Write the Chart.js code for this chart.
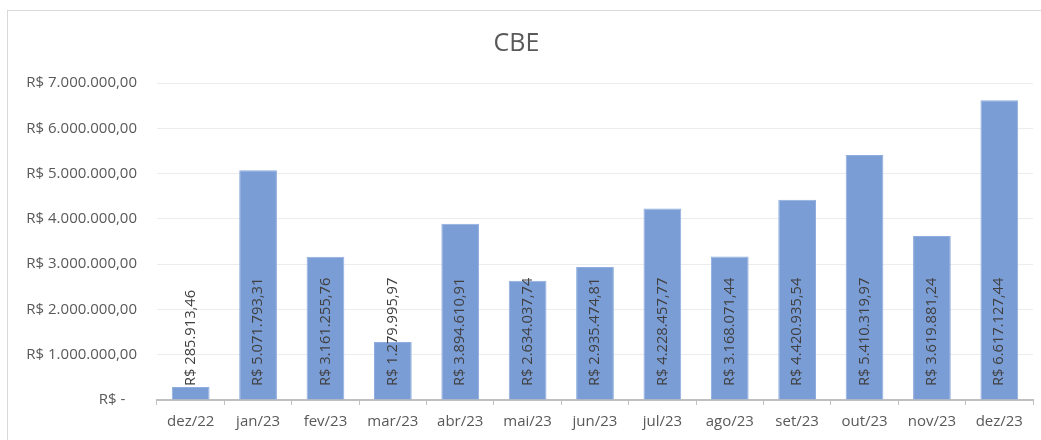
<!DOCTYPE html>
<html>
<head>
<meta charset="utf-8">
<script src="https://cdn.jsdelivr.net/npm/chart.js@4"></script>
<style>
  body { margin: 0; background: #fff; }
  #wrap { position: relative; width: 1041px; height: 440px; }
</style>
</head>
<body>
<div id="wrap"><canvas id="cbeChart" width="1041" height="440"></canvas></div>
<script>
// categories and values
const months = ['dez/22', 'jan/23', 'fev/23', 'mar/23', 'abr/23', 'mai/23', 'jun/23',
                'jul/23', 'ago/23', 'set/23', 'out/23', 'nov/23', 'dez/23'];
const cbeValues = [285913.46, 5071793.31, 3161255.76, 1279995.97, 3894610.91, 2634037.74, 2935474.81,
                   4228457.77, 3168071.44, 4420935.54, 5410319.97, 3619881.24, 6617127.44];
const yTicks = [0, 1000000, 2000000, 3000000, 4000000, 5000000, 6000000, 7000000];

const fontFamily = '"Open Sans", sans-serif';

// brazilian currency, like excel's accounting format
function brl(v) {
    if (v === 0) return 'R$ -   ';
    return 'R$ ' + v.toLocaleString('pt-BR', { minimumFractionDigits: 2, maximumFractionDigits: 2 });
}

// outer chart frame
const framePlugin = {
    id: 'frame',
    beforeDraw(chart) {
        const ctx = chart.ctx;
        ctx.save();
        ctx.fillStyle = '#fff';
        ctx.fillRect(0, 0, chart.width, chart.height);
        ctx.strokeStyle = '#d9d9d9';
        ctx.lineWidth = 1;
        ctx.strokeRect(7.5, 10.5, chart.width + 10, chart.height + 10);
        ctx.restore();
    }
};

// rotated value labels, starting near the bottom of each bar
const valueLabels = {
    id: 'valueLabels',
    afterDatasetsDraw(chart) {
        const ctx = chart.ctx;
        const base = chart.scales.y.getPixelForValue(0);
        const meta = chart.getDatasetMeta(0);
        ctx.save();
        ctx.font = '14.7px ' + fontFamily;
        ctx.fillStyle = '#404040';
        ctx.textAlign = 'left';
        ctx.textBaseline = 'middle';
        meta.data.forEach((bar, i) => {
            ctx.save();
            ctx.translate(bar.x, base - 14);
            ctx.rotate(-Math.PI / 2);
            ctx.fillText(brl(cbeValues[i]), 0, 0);
            ctx.restore();
        });
        ctx.restore();
    }
};

new Chart('cbeChart', {
    type: 'bar',
    data: {
        labels: months,
        datasets: [{
            data: cbeValues,
            backgroundColor: '#7b9dd6',
            borderColor: '#8fadde',
            borderWidth: 1,
            categoryPercentage: 1,
            barPercentage: 0.56
        }]
    },
    options: {
        responsive: false,
        animation: false,
        layout: { padding: { left: 0, right: 8, top: 0, bottom: 0 } },
        plugins: {
            legend: { display: false },
            tooltip: { enabled: false },
            title: {
                display: true,
                text: 'CBE',
                color: '#595959',
                font: { family: fontFamily, size: 25, weight: 'normal' },
                padding: { top: 29, bottom: 24 }
            }
        },
        scales: {
            x: {
                offset: true,
                grid: {
                    offset: true,
                    drawOnChartArea: false,
                    drawTicks: true,
                    tickLength: 5,
                    color: '#bfbfbf'
                },
                border: { display: true, color: '#bfbfbf', width: 2 },
                ticks: {
                    color: '#595959',
                    font: { family: fontFamily, size: 15 },
                    padding: 8,
                    maxRotation: 0
                },
                afterFit(scale) { scale.height = 40; }
            },
            y: {
                min: 0,
                max: 7000000,
                afterBuildTicks(scale) {
                    scale.ticks = yTicks.map(v => ({ value: v }));
                },
                grid: { color: '#ececec', drawTicks: false, lineWidth: 1 },
                border: { display: false },
                ticks: {
                    color: '#595959',
                    font: { family: fontFamily, size: 15 },
                    padding: 20,
                    callback: v => brl(v)
                },
                afterFit(scale) { scale.width = 157; }
            }
        }
    },
    plugins: [framePlugin, valueLabels]
});
</script>
</body>
</html>
